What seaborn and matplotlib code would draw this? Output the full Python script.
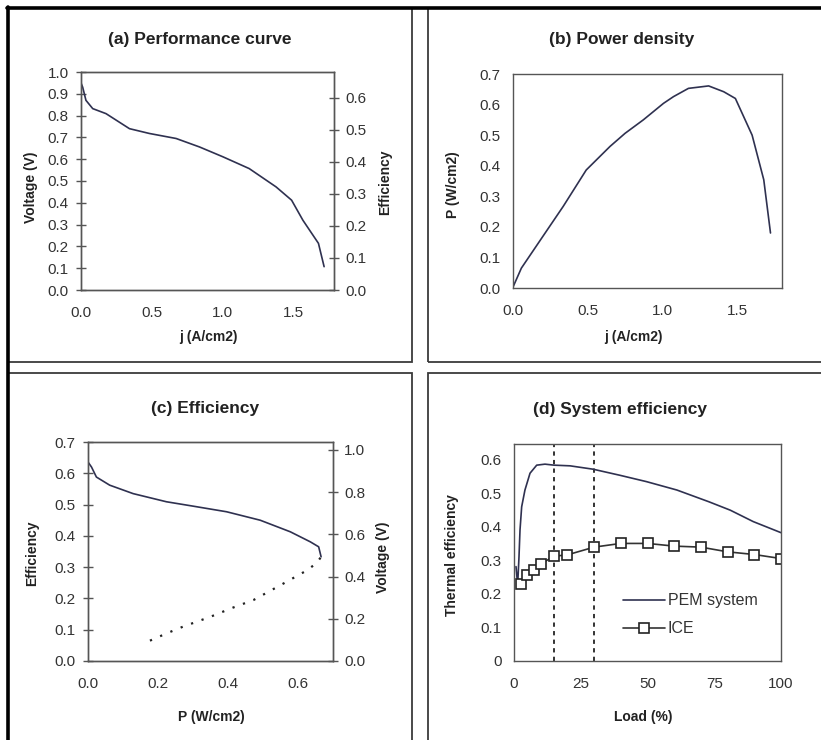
import numpy as np
import pandas as pd
import matplotlib
matplotlib.use("Agg")
import matplotlib.pyplot as plt
import seaborn as sns
from matplotlib.lines import Line2D
from matplotlib.patches import Rectangle
from matplotlib.ticker import FuncFormatter, FormatStrFormatter

# --- data ---
# (a) performance curve: voltage vs current density
j_a = [0.0, 0.012, 0.035, 0.083, 0.177, 0.343, 0.484, 0.673, 0.839, 1.004, 1.19, 1.38, 1.49, 1.57, 1.68, 1.72]
volt_a = [0.95, 0.93, 0.87, 0.832, 0.809, 0.74, 0.718, 0.695, 0.656, 0.611, 0.557, 0.473, 0.412, 0.32, 0.214, 0.107]

# (b) power density vs current density
j_b = [0.0, 0.056, 0.2, 0.336, 0.49, 0.649, 0.75, 0.872, 1.007, 1.074, 1.174, 1.309, 1.41, 1.488, 1.6, 1.678, 1.723]
p_b = [0.003, 0.065, 0.169, 0.267, 0.386, 0.463, 0.506, 0.55, 0.604, 0.626, 0.653, 0.661, 0.642, 0.62, 0.5, 0.354, 0.18]

# (c) efficiency vs power density (upper and lower branch)
p_c_hi = [0.0, 0.01, 0.024, 0.062, 0.129, 0.224, 0.30, 0.396, 0.492, 0.578, 0.635, 0.659, 0.666]
eff_c_hi = [0.636, 0.62, 0.588, 0.562, 0.535, 0.509, 0.495, 0.477, 0.45, 0.413, 0.381, 0.365, 0.333]
p_c_lo = [0.177, 0.224, 0.272, 0.349, 0.415, 0.473, 0.559, 0.626, 0.654, 0.666]
eff_c_lo = [0.065, 0.088, 0.11, 0.141, 0.171, 0.195, 0.248, 0.29, 0.314, 0.333]

# (d) system efficiency vs load
load_pem = [0.75, 1.37, 1.87, 2.25, 2.87, 4.1, 6.0, 8.5, 11.6, 15, 21, 29.6, 39.6, 49.6, 61, 73, 81, 89.6, 100]
eff_pem = [0.281, 0.226, 0.31, 0.39, 0.459, 0.509, 0.559, 0.583, 0.586, 0.583, 0.581, 0.571, 0.553, 0.534, 0.509, 0.474, 0.449, 0.415, 0.382]
load_ice = [2.5, 5, 7.5, 10, 15, 20, 30, 40, 50, 60, 70, 80, 90, 100]
eff_ice = [0.229, 0.255, 0.272, 0.289, 0.312, 0.316, 0.339, 0.35, 0.35, 0.342, 0.339, 0.325, 0.317, 0.305]
load_marks = [15, 30]

# --- style ---
sns.set_theme(style="white")
plt.rcParams['font.family'] = ['Liberation Sans', 'DejaVu Sans']
plt.rcParams['axes.edgecolor'] = '#555555'
plt.rcParams['axes.linewidth'] = 1.0

W, H = 821, 740
fig = plt.figure(figsize=(W / 100, H / 100), dpi=100)

LINE = '#2f3150'
TXT = '#333333'


def px_axes(left, right, top, bottom):
    return fig.add_axes([left / W, 1 - bottom / H, (right - left) / W, (bottom - top) / H])


def style_ax(ax, right=False):
    ax.tick_params(direction='inout', length=7, width=1.0, color='#555555',
                   labelsize=11, labelcolor=TXT)
    ax.tick_params(axis='y', pad=5.5)
    ax.tick_params(axis='x', pad=8)
    if right:
        ax.tick_params(axis='y', pad=4.5)
    ax.grid(False)


def label(ax, axis, text, x, y):
    lab = ax.yaxis.label if axis == 'y' else ax.xaxis.label
    if axis == 'y':
        ax.set_ylabel(text, fontsize=10, fontweight='bold', color='#222222')
        ax.yaxis.set_label_coords(x, y)
    else:
        ax.set_xlabel(text, fontsize=10, fontweight='bold', color='#222222')
        ax.xaxis.set_label_coords(x, y)
    lab.set_va('center')
    lab.set_ha('center')


def title(ax, text, x, y):
    ax.text(x, y, text, transform=ax.transAxes, ha='center', va='center',
            fontsize=12.5, fontweight='bold', color='#222222')


# panel frames
for (l, t, r, b) in [(8, 8, 412, 362), (428, 8, 840, 362), (8, 373, 412, 760), (428, 373, 840, 760)]:
    fig.add_artist(Rectangle((l / W, 1 - b / H), (r - l) / W, (b - t) / H, transform=fig.transFigure,
                             fill=False, edgecolor='#3a3a3a', linewidth=1.3))
fig.add_artist(Line2D([8 / W, 8 / W], [0, 1 - 7 / H], transform=fig.transFigure, color='black', linewidth=2.6))
fig.add_artist(Line2D([7 / W, 1], [1 - 8 / H, 1 - 8 / H], transform=fig.transFigure, color='black', linewidth=2.6))

# ---------------- (a) ----------------
ax = px_axes(81, 334, 72, 290)
sns.lineplot(x=j_a, y=volt_a, sort=False, estimator=None, color=LINE, linewidth=1.2, ax=ax)
ax.set_xlim(0, 1.79)
ax.set_ylim(0, 1.0)
ax.set_xticks([0, 0.5, 1.0, 1.5])
ax.set_yticks(np.arange(0, 1.01, 0.1))
ax.xaxis.set_major_formatter(FormatStrFormatter('%.1f'))
ax.yaxis.set_major_formatter(FormatStrFormatter('%.1f'))
style_ax(ax)
label(ax, 'y', 'Voltage (V)', -0.198, 0.472)
label(ax, 'x', 'j (A/cm2)', 0.504, -0.216)
title(ax, '(a) Performance curve', 0.468, 1.147)
ax2 = ax.twinx()
ax2.set_ylim(0, 0.68)
ax2.set_yticks(np.arange(0, 0.61, 0.1))
ax2.yaxis.set_major_formatter(FormatStrFormatter('%.1f'))
style_ax(ax2, right=True)
label(ax2, 'y', 'Efficiency', 1.202, 0.495)

# ---------------- (b) ----------------
ax = px_axes(513, 782, 74, 288)
sns.lineplot(x=j_b, y=p_b, sort=False, estimator=None, color=LINE, linewidth=1.2, ax=ax)
ax.set_xlim(0, 1.8)
ax.set_ylim(0, 0.7)
ax.set_xticks([0, 0.5, 1.0, 1.5])
ax.set_yticks(np.arange(0, 0.71, 0.1))
ax.xaxis.set_major_formatter(FormatStrFormatter('%.1f'))
ax.yaxis.set_major_formatter(FormatStrFormatter('%.1f'))
style_ax(ax)
label(ax, 'y', 'P (W/cm2)', -0.223, 0.481)
label(ax, 'x', 'j (A/cm2)', 0.446, -0.229)
title(ax, '(b) Power density', 0.405, 1.159)

# ---------------- (c) ----------------
ax = px_axes(88, 333, 442, 661)
sns.lineplot(x=p_c_hi, y=eff_c_hi, sort=False, estimator=None, color=LINE, linewidth=1.2, ax=ax)
sns.lineplot(x=p_c_lo, y=eff_c_lo, sort=False, estimator=None, color='#222222', linewidth=1.6,
             linestyle=(0, (1, 4)), ax=ax)
ax.set_xlim(0, 0.7)
ax.set_ylim(0, 0.7)
ax.set_xticks(np.arange(0, 0.701, 0.05))
ax.xaxis.set_major_formatter(FuncFormatter(
    lambda v, p: f'{v:.1f}' if abs(round(v / 0.2) * 0.2 - v) < 1e-6 and v < 0.65 else ''))
ax.set_yticks(np.arange(0, 0.71, 0.1))
ax.yaxis.set_major_formatter(FormatStrFormatter('%.1f'))
style_ax(ax)
label(ax, 'y', 'Efficiency', -0.229, 0.493)
label(ax, 'x', 'P (W/cm2)', 0.502, -0.256)
title(ax, '(c) Efficiency', 0.478, 1.151)
ax2 = ax.twinx()
ax2.set_ylim(0, 1.037)
ax2.set_yticks(np.arange(0, 1.01, 0.2))
ax2.yaxis.set_major_formatter(FormatStrFormatter('%.1f'))
style_ax(ax2, right=True)
label(ax2, 'y', 'Voltage (V)', 1.204, 0.475)

# ---------------- (d) ----------------
ax = px_axes(514, 781, 444, 661)
for xv in load_marks:
    ax.axvline(xv, color='#333333', linewidth=1.4, linestyle=(0, (2.2, 2.2)), zorder=1)
sns.lineplot(x=load_pem, y=eff_pem, sort=False, estimator=None, color=LINE, linewidth=1.2,
             ax=ax, label='PEM system')
sns.lineplot(x=load_ice, y=eff_ice, sort=False, estimator=None, color='#333333', linewidth=1.2,
             marker='s', markersize=7.5, markerfacecolor='white', markeredgecolor='#222222',
             markeredgewidth=1.2, ax=ax, label='ICE')
ax.set_xlim(0, 100)
ax.set_ylim(0, 0.646)
ax.set_xticks([0, 25, 50, 75, 100])
ax.set_yticks(np.arange(0, 0.61, 0.1))
ax.yaxis.set_major_formatter(FuncFormatter(lambda v, p: '0' if abs(v) < 1e-9 else f'{v:.1f}'))
style_ax(ax)
label(ax, 'y', 'Thermal efficiency', -0.232, 0.488)
label(ax, 'x', 'Load (%)', 0.483, -0.258)
title(ax, '(d) System efficiency', 0.397, 1.161)
ax.legend(loc='center left', bbox_to_anchor=(0.355, 0.213), frameon=False, fontsize=11.5,
          handlelength=2.65, handletextpad=0.15, labelspacing=0.8, labelcolor=TXT)

fig.savefig('out.png', dpi=100)
